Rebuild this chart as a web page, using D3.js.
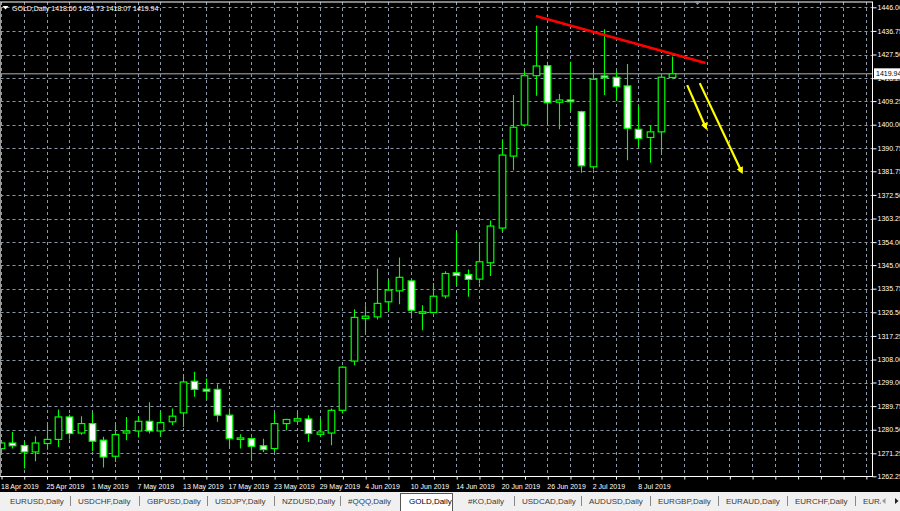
<!DOCTYPE html>
<html>
<head>
<meta charset="utf-8">
<script src="https://cdn.jsdelivr.net/npm/d3@7"></script>
<style>
  html, body { margin: 0; padding: 0; background: #000; overflow: hidden; }
  svg { display: block; }
  text { font-family: "Liberation Sans", Arial, sans-serif; }
</style>
</head>
<body>
<svg id="chart" width="900" height="511"></svg>
<script>
// ---------------- DATA ----------------
const symbolTitle = "GOLD,Daily";
const lastBar = [1418.50, 1426.73, 1418.07, 1419.94];

const dates = [
  "18 Apr 2019","22 Apr 2019","23 Apr 2019","24 Apr 2019","25 Apr 2019","26 Apr 2019","29 Apr 2019","30 Apr 2019",
  "1 May 2019","2 May 2019","3 May 2019","6 May 2019","7 May 2019","8 May 2019","9 May 2019","10 May 2019",
  "13 May 2019","14 May 2019","15 May 2019","16 May 2019","17 May 2019","20 May 2019","21 May 2019","22 May 2019",
  "23 May 2019","24 May 2019","27 May 2019","28 May 2019","29 May 2019","30 May 2019","31 May 2019","3 Jun 2019",
  "4 Jun 2019","5 Jun 2019","6 Jun 2019","7 Jun 2019","10 Jun 2019","11 Jun 2019","12 Jun 2019","13 Jun 2019",
  "14 Jun 2019","17 Jun 2019","18 Jun 2019","19 Jun 2019","20 Jun 2019","21 Jun 2019","24 Jun 2019","25 Jun 2019",
  "26 Jun 2019","27 Jun 2019","28 Jun 2019","1 Jul 2019","2 Jul 2019","3 Jul 2019","4 Jul 2019","5 Jul 2019",
  "8 Jul 2019","9 Jul 2019","10 Jul 2019","11 Jul 2019"
];

const opens = [
  1273.1,1275.3,1274.3,1271.8,1275.1,1276.7,1285.5,1279.2,1282.9,1276.4,
  1270.1,1279.2,1280.0,1283.8,1280.0,1283.6,1287.1,1299.5,1296.4,1296.3,
  1286.2,1276.7,1277.0,1274.2,1273.1,1282.9,1283.9,1284.7,1278.7,1279.2,
  1288.1,1307.4,1324.1,1324.7,1330.6,1334.9,1338.8,1326.1,1326.4,1332.9,
  1342.0,1341.3,1339.5,1345.9,1359.5,1387.7,1399.9,1419.2,1423.1,1408.8,
  1409.7,1405.1,1383.5,1419.1,1418.6,1415.2,1398.2,1395.0,1397.2,1418.50
];
const highs = [
  1276.5,1279.6,1276.0,1277.9,1282.3,1288.4,1286.5,1285.8,1287.1,1277.7,
  1282.3,1285.5,1285.8,1291.3,1287.8,1288.8,1301.2,1303.2,1300.6,1298.3,
  1288.8,1278.7,1277.5,1277.0,1287.1,1284.8,1287.5,1286.2,1284.8,1288.8,
  1305.4,1327.7,1329.3,1343.7,1339.4,1348.0,1339.5,1329.3,1338.0,1342.6,
  1358.3,1343.3,1353.6,1362.5,1394.3,1411.6,1421.1,1438.8,1424.7,1412.0,
  1424.7,1405.5,1421.1,1437.4,1421.1,1423.8,1407.7,1399.5,1419.0,1426.73
];
const lows = [
  1271.5,1273.1,1265.3,1268.1,1272.7,1273.7,1276.7,1278.5,1272.1,1265.7,
  1267.9,1276.4,1277.5,1279.0,1277.9,1282.3,1281.6,1293.4,1292.1,1283.6,
  1273.5,1273.1,1268.6,1271.8,1271.8,1280.3,1282.9,1275.7,1277.7,1274.4,
  1286.9,1305.8,1318.8,1323.7,1326.7,1329.7,1324.1,1319.5,1326.1,1331.9,
  1337.1,1332.6,1337.8,1340.7,1358.0,1382.2,1399.2,1411.3,1400.8,1398.2,
  1405.5,1381.2,1382.5,1411.6,1409.4,1386.1,1391.4,1385.1,1388.8,1418.07
];
const closes = [
  1275.3,1274.2,1271.8,1275.3,1276.7,1285.5,1279.0,1282.9,1276.0,1269.8,
  1278.6,1280.0,1283.8,1280.0,1283.3,1285.8,1299.2,1296.3,1295.6,1286.2,
  1277.0,1277.3,1274.0,1272.7,1282.9,1284.5,1284.8,1279.0,1279.6,1288.1,
  1305.0,1324.5,1325.0,1330.0,1335.2,1340.2,1327.3,1326.7,1332.8,1341.7,
  1340.9,1339.4,1346.3,1360.3,1388.1,1399.0,1419.2,1423.0,1408.6,1409.7,
  1409.0,1383.9,1417.8,1418.4,1414.9,1398.6,1394.6,1397.2,1418.6,1419.94
];

const priceTicks = [1446.00,1436.75,1427.50,1418.25,1409.25,1400.00,1390.75,1381.75,1372.50,1363.25,
  1354.00,1345.00,1335.75,1326.50,1317.25,1308.00,1299.00,1289.75,1280.50,1271.25,1262.25];

// drawn objects: [barIndex, price]
const trendLine = [[47, 1442.6], [61.9, 1424.2]];
const arrowLines = [
  [[60.3, 1415.5], [61.95, 1398.7]],
  [[61.4, 1416.3], [65.1, 1381.4]]
];

const tabs = ["EURUSD,Daily","USDCHF,Daily","GBPUSD,Daily","USDJPY,Daily","NZDUSD,Daily","#QQQ,Daily",
  "GOLD,Daily","#KO,Daily","USDCAD,Daily","AUDUSD,Daily","EURGBP,Daily","EURAUD,Daily","EURCHF,Daily","EURJPY,Daily"];
const activeTab = "GOLD,Daily";

// ---------------- LAYOUT ----------------
const W = 900, H = 511;
const frame = {left: 0.5, right: 872.5, top: 2, bottom: 476.5};
const tabBarTop = 492;
const tabTextX = [10, 78, 147, 215, 282, 348, 409, 468, 522, 589, 658, 726, 795, 863];
const barStep = 11.38;

const svg = d3.select("#chart");
const x = d3.scaleLinear().domain([0, 1]).range([1, 1 + barStep]);
const y = d3.scaleLinear().domain([1262.25, 1446.00]).range([476.3, 7.3]);

const bars = dates.map((d, i) => ({i, date: d, o: opens[i], h: highs[i], l: lows[i], c: closes[i]}));

svg.append("rect").attr("x", 0).attr("y", 0).attr("width", W).attr("height", tabBarTop).attr("fill", "#000");

const defs = svg.append("defs");
defs.append("clipPath").attr("id", "plotClip").append("rect")
  .attr("x", frame.left).attr("y", frame.top).attr("width", frame.right - frame.left).attr("height", frame.bottom - frame.top);
defs.append("clipPath").attr("id", "tabClip").append("rect")
  .attr("x", 0).attr("y", tabBarTop).attr("width", 881).attr("height", H - tabBarTop);
defs.append("marker").attr("id", "yArrow").attr("viewBox", "0 0 10 10")
  .attr("refX", 7).attr("refY", 5).attr("markerWidth", 3.2).attr("markerHeight", 3.2)
  .attr("orient", "auto").attr("markerUnits", "strokeWidth")
  .append("path").attr("d", "M0,0 L10,5 L0,10 z").attr("fill", "#ffff00");

const gridColor = "#8c97a8";
const plot = svg.append("g").attr("clip-path", "url(#plotClip)");

// horizontal grid
plot.append("g").selectAll("line").data(priceTicks).join("line")
  .attr("x1", frame.left).attr("x2", frame.right)
  .attr("y1", d => Math.round(y(d)) + 0.5).attr("y2", d => Math.round(y(d)) + 0.5)
  .attr("stroke", gridColor).attr("stroke-width", 1).attr("stroke-dasharray", "3,3");

// vertical grid (every 2 bars)
const gridIdx = d3.range(0, 80, 2).filter(i => x(i) < frame.right - 2);
plot.append("g").selectAll("line").data(gridIdx).join("line")
  .attr("x1", d => Math.round(x(d)) + 0.5).attr("x2", d => Math.round(x(d)) + 0.5)
  .attr("y1", frame.top).attr("y2", frame.bottom)
  .attr("stroke", gridColor).attr("stroke-width", 1).attr("stroke-dasharray", "3,3");

// bid line
plot.append("line")
  .attr("x1", frame.left).attr("x2", frame.right)
  .attr("y1", y(lastBar[3])).attr("y2", y(lastBar[3]))
  .attr("stroke", "#b0b0b0").attr("stroke-width", 1);

// candles
const green = "#00ff00";
const cg = plot.append("g");
cg.selectAll("line.wick").data(bars).join("line").attr("class", "wick")
  .attr("x1", d => Math.round(x(d.i)) + 0.5).attr("x2", d => Math.round(x(d.i)) + 0.5)
  .attr("y1", d => y(d.h)).attr("y2", d => y(d.l))
  .attr("stroke", green).attr("stroke-width", 1.1);
cg.selectAll("rect.body").data(bars).join("rect").attr("class", "body")
  .attr("x", d => Math.round(x(d.i)) + 0.5 - 3.3)
  .attr("width", 6.6)
  .attr("y", d => y(Math.max(d.o, d.c)))
  .attr("height", d => Math.max(1.2, Math.abs(y(d.o) - y(d.c))))
  .attr("fill", d => d.c >= d.o ? "#000" : "#fff")
  .attr("stroke", green).attr("stroke-width", 1.2);

// trend line
plot.append("line")
  .attr("x1", x(trendLine[0][0])).attr("y1", y(trendLine[0][1]))
  .attr("x2", x(trendLine[1][0])).attr("y2", y(trendLine[1][1]))
  .attr("stroke", "#ff0000").attr("stroke-width", 2.6);

// arrows
plot.append("g").selectAll("line").data(arrowLines).join("line")
  .attr("x1", d => x(d[0][0])).attr("y1", d => y(d[0][1]))
  .attr("x2", d => x(d[1][0])).attr("y2", d => y(d[1][1]))
  .attr("stroke", "#ffff00").attr("stroke-width", 2.2)
  .attr("marker-end", "url(#yArrow)");

// frame
svg.append("rect")
  .attr("x", frame.left).attr("y", frame.top)
  .attr("width", frame.right - frame.left).attr("height", frame.bottom - frame.top)
  .attr("fill", "none").attr("stroke", "#ffffff").attr("stroke-width", 1);
svg.append("line").attr("x1", 0.5).attr("x2", 0.5).attr("y1", frame.top).attr("y2", frame.bottom)
  .attr("stroke", "#9a9a9a");

// chart shift marker
svg.append("path").attr("d", `M${694},1 L${701},1 L${697.5},5 Z`).attr("fill", "#8899aa");

// right price axis
const yAxis = d3.axisRight(y).tickValues(priceTicks).tickFormat(d3.format(".2f")).tickSize(4).tickPadding(1);
const ya = svg.append("g").attr("transform", `translate(${frame.right},0)`).call(yAxis);
ya.select(".domain").remove();
ya.selectAll("line").attr("stroke", "#fff");
ya.selectAll("text").attr("fill", "#fff").attr("font-size", "7px").attr("font-family", "Liberation Sans, Arial, sans-serif");

// bid label
const by = y(lastBar[3]);
svg.append("rect").attr("x", 874).attr("y", by - 5.5).attr("width", 27).attr("height", 11).attr("fill", "#fff");
svg.append("text").attr("x", 876).attr("y", by).attr("dy", "0.32em")
  .attr("font-size", "7px").attr("fill", "#000").text(d3.format(".2f")(lastBar[3]));

// bottom time axis ticks
const xAxis = d3.axisBottom(x).tickValues(gridIdx).tickSize(3).tickFormat("");
const xa = svg.append("g").attr("transform", `translate(0.5,${frame.bottom})`).call(xAxis);
xa.select(".domain").remove();
xa.selectAll("line").attr("stroke", "#fff");

svg.append("g").selectAll("text").data(bars.filter(d => d.i % 4 === 0)).join("text")
  .attr("x", d => x(d.i)).attr("y", 488.5)
  .attr("font-size", "7px").attr("fill", "#fff").text(d => d.date);

// title
svg.append("path").attr("d", "M2.5,6 L8.5,6 L5.5,9.5 Z").attr("fill", "#fff");
svg.append("text").attr("x", 12).attr("y", 11)
  .attr("font-size", "7px").attr("fill", "#fff")
  .text(`${symbolTitle}  ${lastBar.map(v => v.toFixed(2)).join(" ")}`);

// tab bar
svg.append("rect").attr("x", 0).attr("y", tabBarTop).attr("width", W).attr("height", H - tabBarTop).attr("fill", "#f0f0f0");
const tg = svg.append("g").attr("clip-path", "url(#tabClip)");
const activeIdx = tabs.indexOf(activeTab);
tg.append("rect").attr("x", 400.5).attr("y", tabBarTop + 1.5).attr("width", 52).attr("height", 20)
  .attr("fill", "#fff").attr("stroke", "#555").attr("stroke-width", 1);
tg.selectAll("text.tab").data(tabs).join("text").attr("class", "tab")
  .attr("x", (d, i) => tabTextX[i]).attr("y", 504)
  .attr("font-size", "8px").attr("fill", (d) => d === activeTab ? "#000" : "#3a3a3a").text(d => d);
// separators between tabs
const seps = [];
for (let i = 0; i < tabs.length - 1; i++) {
  if (i === activeIdx || i === activeIdx - 1) continue;
  seps.push((tabTextX[i + 1] - 8));
}
tg.selectAll("line.sp").data(seps).join("line").attr("class", "sp")
  .attr("x1", d => d + 0.5).attr("x2", d => d + 0.5).attr("y1", 496).attr("y2", 506)
  .attr("stroke", "#888").attr("stroke-width", 1);
// scroll arrows
svg.append("rect").attr("x", 881).attr("y", tabBarTop + 1).attr("width", 19).attr("height", H - tabBarTop - 1).attr("fill", "#f0f0f0");
svg.append("path").attr("d", "M882,501 L885.5,498 L885.5,504 Z").attr("fill", "#999");
svg.append("path").attr("d", "M895,498 L898.5,501 L895,504 Z").attr("fill", "#222");
</script>
</body>
</html>
